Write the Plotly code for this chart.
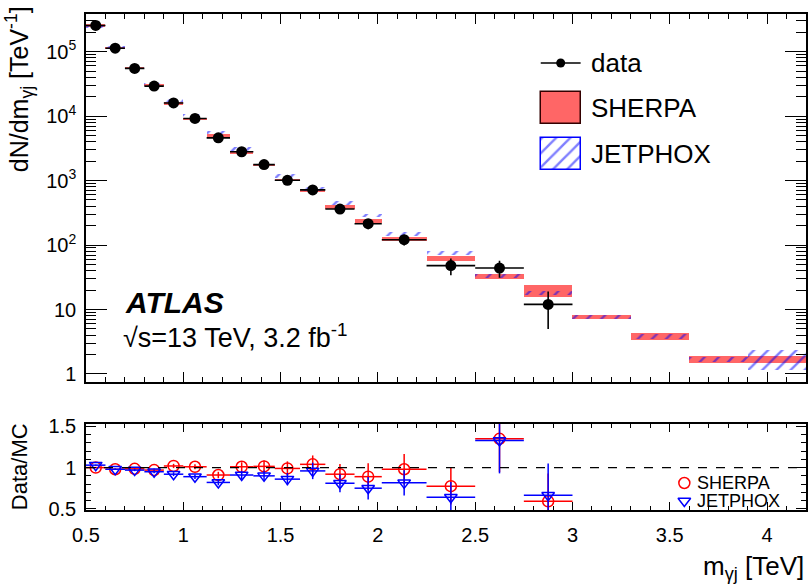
import plotly.graph_objects as go

# ---------------- data ----------------
bin_edges = [0.5, 0.6, 0.7, 0.8, 0.9, 1.0, 1.12, 1.24, 1.36, 1.47, 1.6, 1.73,
             1.88, 2.02, 2.25, 2.5, 2.75, 3.0, 3.3, 3.6, 4.2]
jetphox_edges = [0.5, 0.6, 0.7, 0.8, 0.9, 1.0, 1.12, 1.24, 1.36, 1.47, 1.6, 1.73,
                 1.88, 2.02, 2.25, 2.5, 2.75, 3.0, 3.3, 3.6, 3.9, 4.2]

data_vals = [2.55e5, 1.13e5, 5.5e4, 2.92e4, 1.6e4, 9.2e3, 4.6e3, 2.8e3, 1.77e3,
             1010, 716, 362, 214, 121, 48, 44, 12]
data_errs = [1600, 1060, 740, 540, 400, 277, 196, 153, 127, 88, 74, 49, 39, 23,
             14, 13, 7]

sherpa_lo = [2.45e5, 1.107e5, 5.36e4, 2.89e4, 1.507e4, 8.75e3, 4.80e3, 2.63e3,
             1657, 969, 654, 365, 223, 115, 57, 30, 15.5, 7.2, 3.4, 1.5]
sherpa_hi = [2.65e5, 1.199e5, 5.80e4, 3.13e4, 1.633e4, 9.47e3, 5.30e3, 2.91e3,
             1831, 1071, 722, 421, 257, 132, 67, 35.2, 24, 8.3, 4.3, 1.9]

jetphox_lo = [2.33e5, 1.084e5, 5.33e4, 2.89e4, 1.636e4, 9.72e3, 5.27e3, 2.90e3,
              1849, 1104, 701, 420, 268, 139.6, 70.5, 31.1, 16.9, 7.2, 3.5, 1.55, 1.15]
jetphox_hi = [2.62e5, 1.222e5, 6.01e4, 3.25e4, 1.844e4, 1.096e4, 5.95e3, 3.26e3,
              2085, 1244, 791, 474, 302, 157.4, 79.5, 35.1, 19.1, 8.2, 4.1, 1.82, 2.36]

ratio_sherpa = [1.00, 0.98, 0.985, 0.97, 1.02, 1.01, 0.91, 1.01, 1.015, 0.99,
                1.04, 0.92, 0.89, 0.98, 0.775, 1.35, 0.59]
ratio_sherpa_err = [0.006, 0.009, 0.013, 0.018, 0.026, 0.030, 0.039, 0.055, 0.073,
                    0.086, 0.108, 0.125, 0.163, 0.185, 0.224, 0.405, 0.34]
ratio_jetphox = [1.03, 0.98, 0.97, 0.95, 0.92, 0.89, 0.82, 0.91, 0.90, 0.86,
                 0.96, 0.81, 0.75, 0.815, 0.64, 1.33, 0.665]
ratio_jetphox_err = [0.0065, 0.009, 0.013, 0.018, 0.023, 0.027, 0.035, 0.050, 0.064,
                     0.075, 0.10, 0.11, 0.137, 0.154, 0.185, 0.40, 0.384]

y_tick_vals = [1, 10, 100, 1e3, 1e4, 1e5]
y_tick_text = ["1", "10", "10<sup>2</sup>", "10<sup>3</sup>", "10<sup>4</sup>", "10<sup>5</sup>"]
x_tick_vals = [0.5, 1, 1.5, 2, 2.5, 3, 3.5, 4]
x_tick_text = ["0.5", "1", "1.5", "2", "2.5", "3", "3.5", "4"]
r_tick_vals = [0.5, 1, 1.5]
r_tick_text = ["0.5", "1", "1.5"]

# ---------------- derived bin geometry ----------------
def centers(e):
    return [(a + b) / 2 for a, b in zip(e[:-1], e[1:])]

def widths(e):
    return [b - a for a, b in zip(e[:-1], e[1:])]

xc = centers(bin_edges)
xw = widths(bin_edges)
jc = centers(jetphox_edges)
jw = widths(jetphox_edges)
nd = len(data_vals)
dxc = xc[:nd]
dxh = [w / 2 for w in xw[:nd]]

FONT = "Liberation Sans"
W, H = 809, 584
L, R, T, B = 86, 1, 14, 74
PH = H - T - B

def py(p):  # pixel y -> paper y
    return (H - B - p) / PH

def px(p):  # pixel x -> paper x
    return (p - L) / (W - L - R)

HATCH = dict(shape="/", fgcolor="#0000FF", size=10, solidity=0.24, fillmode="overlay")

fig = go.Figure()

# SHERPA band (top)
fig.add_trace(go.Bar(
    x=xc, width=xw, base=sherpa_lo,
    y=[h - l for h, l in zip(sherpa_hi, sherpa_lo)],
    marker=dict(color="#FF6666", line=dict(width=0)),
    xaxis="x", yaxis="y", showlegend=False, hoverinfo="skip"))

# JETPHOX band (top)
fig.add_trace(go.Bar(
    x=jc, width=jw, base=jetphox_lo,
    y=[h - l for h, l in zip(jetphox_hi, jetphox_lo)],
    marker=dict(color="rgba(0,0,0,0)", line=dict(width=0),
                pattern=dict(bgcolor="rgba(0,0,0,0)", **HATCH)),
    xaxis="x", yaxis="y", showlegend=False, hoverinfo="skip"))

# data (top)
fig.add_trace(go.Scatter(
    x=dxc, y=data_vals, mode="markers",
    marker=dict(color="black", size=11),
    error_x=dict(type="data", array=dxh, color="black", thickness=1.6, width=0),
    error_y=dict(type="data", array=data_errs, color="black", thickness=1.6, width=0),
    xaxis="x", yaxis="y", showlegend=False, hoverinfo="skip"))

# ratio SHERPA
fig.add_trace(go.Scatter(
    x=dxc, y=ratio_sherpa, mode="markers",
    marker=dict(color="#FF0000", size=11, symbol="circle-open", line=dict(width=1.5)),
    error_x=dict(type="data", array=dxh, color="#FF0000", thickness=1.5, width=0),
    error_y=dict(type="data", array=ratio_sherpa_err, color="#FF0000", thickness=1.5, width=0),
    xaxis="x2", yaxis="y2", showlegend=False, hoverinfo="skip"))

# ratio JETPHOX
fig.add_trace(go.Scatter(
    x=dxc, y=ratio_jetphox, mode="markers",
    marker=dict(color="#0000FF", size=11, symbol="triangle-down-open", line=dict(width=1.5)),
    error_x=dict(type="data", array=dxh, color="#0000FF", thickness=1.5, width=0),
    error_y=dict(type="data", array=ratio_jetphox_err, color="#0000FF", thickness=1.5, width=0),
    xaxis="x2", yaxis="y2", showlegend=False, hoverinfo="skip"))

# ---------- legend drawn on an overlay axis in pixel units ----------
fig.add_trace(go.Scatter(
    x=[562], y=[63], mode="markers", marker=dict(color="black", size=9),
    error_x=dict(type="data", array=[20], color="black", thickness=1.6, width=0),
    xaxis="x3", yaxis="y3", showlegend=False, hoverinfo="skip"))
fig.add_trace(go.Bar(
    x=[562], width=[40], base=[92], y=[32],
    marker=dict(color="#FF6666", line=dict(width=1.5, color="#330000")),
    xaxis="x3", yaxis="y3", showlegend=False, hoverinfo="skip"))
fig.add_trace(go.Bar(
    x=[562], width=[40], base=[138], y=[32],
    marker=dict(color="white", line=dict(width=1.5, color="#0000FF"),
                pattern=dict(bgcolor="white", **HATCH)),
    xaxis="x3", yaxis="y3", showlegend=False, hoverinfo="skip"))
fig.add_trace(go.Scatter(
    x=[686, 686], y=[483, 501], mode="markers",
    marker=dict(color=["#FF0000", "#0000FF"], size=11,
                symbol=["circle-open", "triangle-down-open"], line=dict(width=1.5)),
    xaxis="x3", yaxis="y3", showlegend=False, hoverinfo="skip"))

ax_common = dict(showline=True, linecolor="black", linewidth=1.5, mirror="allticks",
                 showgrid=False, zeroline=False, ticks="inside", tickcolor="black",
                 tickwidth=1.2, tickfont=dict(family=FONT, size=20, color="black"))

minor_log = [m * 10 ** k for k in range(0, 6) for m in range(2, 10)]

fig.update_layout(
    width=W, height=H,
    margin=dict(l=L, r=R, t=T, b=B),
    paper_bgcolor="white", plot_bgcolor="rgba(0,0,0,0)",
    barmode="overlay", bargap=0,
    showlegend=False,
    xaxis=dict(domain=[0, 1], anchor="y", range=[0.5, 4.2], showticklabels=False,
               tickvals=x_tick_vals, ticklen=10,
               minor=dict(ticks="inside", dtick=0.1, tick0=0.5, ticklen=5,
                          tickcolor="black", tickwidth=1),
               **ax_common),
    yaxis=dict(domain=[py(381.5), 1], anchor="x", type="log", range=[-0.117, 5.584],
               tickvals=y_tick_vals, ticktext=y_tick_text, ticklen=21,
               ticklabelstandoff=4,
               minor=dict(ticks="inside", tickvals=minor_log, ticklen=10,
                          tickcolor="black", tickwidth=1),
               **ax_common),
    xaxis2=dict(domain=[0, 1], anchor="y2", range=[0.5, 4.2],
                tickvals=x_tick_vals, ticktext=x_tick_text, ticklen=8,
                ticklabelstandoff=6,
                minor=dict(ticks="inside", dtick=0.1, tick0=0.5, ticklen=4,
                           tickcolor="black", tickwidth=1),
                **ax_common),
    yaxis2=dict(domain=[0, py(424)], anchor="x2", range=[0.485, 1.53],
                tickvals=r_tick_vals, ticktext=r_tick_text, ticklen=10,
                ticklabelstandoff=4,
                minor=dict(ticks="inside", dtick=0.1, tick0=0.5, ticklen=5,
                           tickcolor="black", tickwidth=1),
                **ax_common),
    xaxis3=dict(domain=[0, 1], anchor="y3", range=[L, W - R], visible=False),
    yaxis3=dict(domain=[0, 1], anchor="x3", range=[H - B, T], visible=False),
)

fig.add_shape(type="line", xref="x2 domain", yref="y2", x0=0, x1=1, y0=1, y1=1,
              line=dict(color="black", width=1.2, dash="dash"))

ann_font = dict(family=FONT, color="black")
annotations = [
    dict(text="data", x=590, y=63, xref="x3", yref="y3", xanchor="left", yanchor="middle",
         showarrow=False, font=dict(size=26, **ann_font)),
    dict(text="SHERPA", x=590, y=108, xref="x3", yref="y3", xanchor="left", yanchor="middle",
         showarrow=False, font=dict(size=26, **ann_font)),
    dict(text="JETPHOX", x=590, y=154, xref="x3", yref="y3", xanchor="left", yanchor="middle",
         showarrow=False, font=dict(size=26, **ann_font)),
    dict(text="SHERPA", x=697, y=483, xref="x3", yref="y3", xanchor="left", yanchor="middle",
         showarrow=False, font=dict(size=18, **ann_font)),
    dict(text="JETPHOX", x=697, y=501, xref="x3", yref="y3", xanchor="left", yanchor="middle",
         showarrow=False, font=dict(size=18, **ann_font)),
    dict(text="<b><i>ATLAS</i></b>", x=123, y=302, xref="x3", yref="y3", xanchor="left",
         yanchor="middle", showarrow=False, font=dict(size=30, **ann_font)),
    dict(text="√s=13 TeV, 3.2 fb<sup>-1</sup>", x=121, y=336, xref="x3", yref="y3",
         xanchor="left", yanchor="middle", showarrow=False, font=dict(size=27, **ann_font)),
    dict(text="dN/dm<sub>γj</sub> [TeV<sup>-1</sup>]", x=px(19), y=py(4), xref="paper",
         yref="paper", xanchor="center", yanchor="top", textangle=-90, showarrow=False,
         font=dict(size=25, **ann_font)),
    dict(text="Data/MC", x=px(19), y=py(467), xref="paper", yref="paper",
         xanchor="center", yanchor="middle", textangle=-90, showarrow=False,
         font=dict(size=22, **ann_font)),
    dict(text="m<sub>γj</sub> [TeV]", x=px(808), y=py(567), xref="paper", yref="paper",
         xanchor="right", yanchor="middle", showarrow=False, font=dict(size=26, **ann_font)),
]
fig.update_layout(annotations=annotations)

fig.write_html("out.html",
               config={"displayModeBar": False},
               post_script=["document.body.style.margin='0px';"
                            "document.body.style.overflow='hidden';"])
